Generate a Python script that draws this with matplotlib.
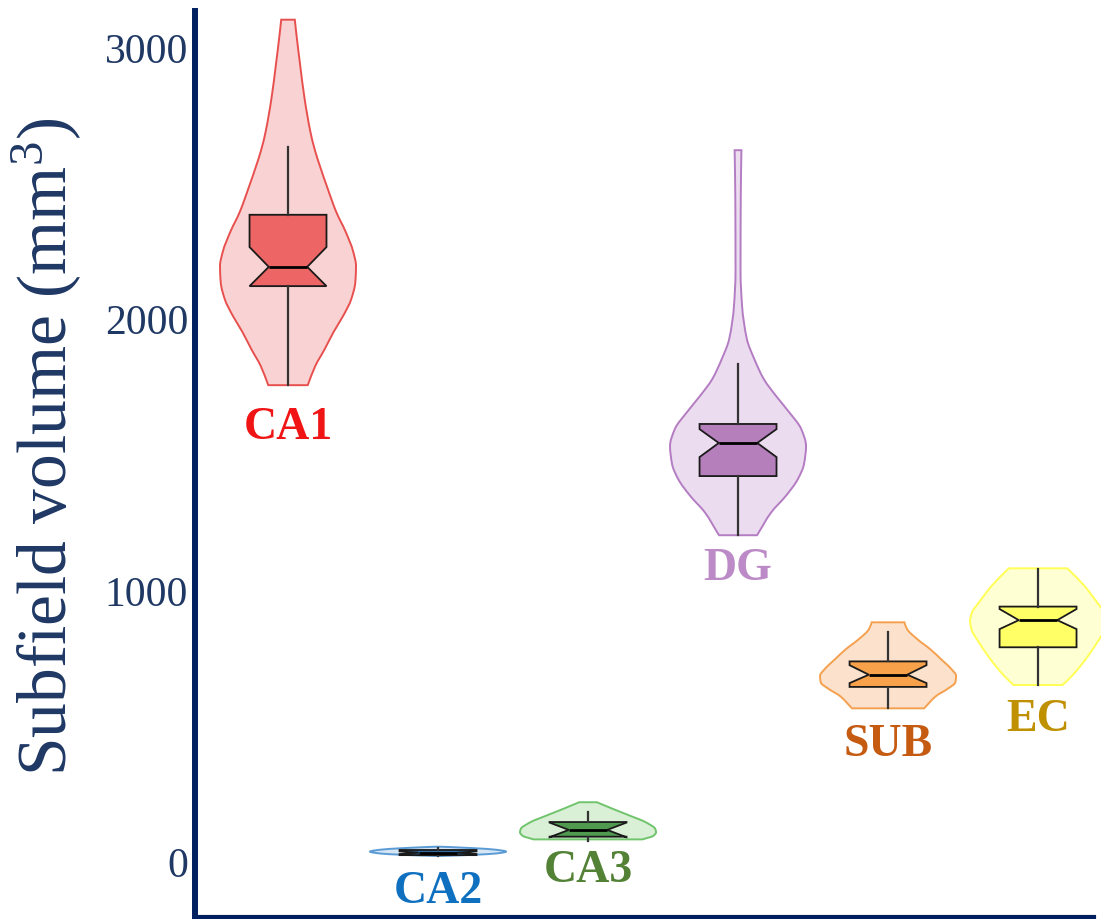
import numpy as np
import matplotlib
matplotlib.use("Agg")
import matplotlib.pyplot as plt
from matplotlib.path import Path
from matplotlib.patches import PathPatch

plt.rcParams["font.family"] = ["Liberation Serif", "DejaVu Serif"]
plt.rcParams["mathtext.fontset"] = "custom"
plt.rcParams["mathtext.rm"] = "Liberation Serif"
plt.rcParams["mathtext.it"] = "Liberation Serif:italic"
plt.rcParams["mathtext.bf"] = "Liberation Serif:bold"

# ---- data -------------------------------------------------------------
categories = ["CA1", "CA2", "CA3", "DG", "SUB", "EC"]

# box statistics (mm^3)
q1 = [2119, 22, 90, 1419, 642, 788]
med = [2190, 31, 115, 1541, 687, 888]
q3 = [2382, 41, 144, 1611, 736, 938]
whislo = [1754, 18, 75, 1201, 563, 649]
whishi = [2633, 48, 182, 1832, 845, 1076]
cilo = [2119, 26, 88, 1489, 656, 855]
cihi = [2263, 36, 142, 1592, 722, 929]

# violin density profiles: volume levels and relative half-widths
ca1_y = [1754, 1824, 1887, 1950, 2009, 2071, 2134, 2193, 2245, 2318, 2392,
         2488, 2561, 2625, 2687, 2808, 2931, 3055, 3101]
ca1_w = [0.29, 0.40, 0.54, 0.67, 0.81, 0.93, 0.99, 1.00, 0.96, 0.85, 0.71,
         0.57, 0.47, 0.39, 0.33, 0.245, 0.18, 0.12, 0.10]

ca2_y = [19, 23, 28, 35, 42, 48, 53]
ca2_w = [0.05, 0.50, 0.85, 1.00, 0.85, 0.50, 0.05]

ca3_y = [80, 93, 106, 118, 143, 167, 192, 217]
ca3_w = [0.80, 0.96, 1.00, 0.99, 0.85, 0.62, 0.37, 0.13]

dg_y = [1201, 1286, 1345, 1408, 1463, 1530, 1592, 1655, 1714, 1776, 1850,
        1924, 2045, 2171, 2440, 2620]
dg_w = [0.28, 0.49, 0.70, 0.88, 0.97, 1.00, 0.93, 0.75, 0.56, 0.38, 0.24,
        0.13, 0.06, 0.037, 0.04, 0.05]

sub_y = [563, 609, 634, 659, 683, 708, 744, 781, 818, 855, 880]
sub_w = [0.53, 0.71, 0.87, 0.99, 1.00, 0.93, 0.78, 0.62, 0.43, 0.28, 0.24]

ec_y = [649, 683, 744, 806, 855, 886, 917, 953, 1015, 1079]
ec_w = [0.36, 0.50, 0.70, 0.87, 0.98, 1.00, 0.97, 0.87, 0.68, 0.43]

profiles_y = [ca1_y, ca2_y, ca3_y, dg_y, sub_y, ec_y]
profiles_w = [ca1_w, ca2_w, ca3_w, dg_w, sub_w, ec_w]

# label placement (volume value for each category name)
label_y = [1600, -112, -33, 1082, 431, 523]

yticks = [0, 1000, 2000, 3000]

# ---- styling ------------------------------------------------------------
edge_colors = ["#e8504f", "#5b9bd5", "#70c46c", "#b47cc2", "#f5a04e", "#ffff55"]
fill_colors = ["#f9d3d3", "#d6e6f5", "#d9efd6", "#ebdcef", "#fce1cd", "#ffffd4"]
box_colors = ["#ee6565", "#2e6ea8", "#4f9a4f", "#b57fbb", "#f7a24b", "#ffff66"]
text_colors = ["#f01414", "#0f70c0", "#538135", "#bc8ac6", "#c55a11", "#bf9000"]
navy = "#002060"
tick_navy = "#1f3864"

half_width = 0.4533   # data units for a relative width of 1
box_width = 0.513


def hermite_slopes(y, w):
    """Monotone (Fritsch-Carlson) slopes of w as a function of y."""
    y = np.asarray(y, float)
    w = np.asarray(w, float)
    h = np.diff(y)
    d = np.diff(w) / h
    m = np.zeros_like(w)
    m[0], m[-1] = d[0], d[-1]
    for k in range(1, len(w) - 1):
        if d[k - 1] * d[k] <= 0:
            m[k] = 0.0
        else:
            w1 = 2 * h[k] + h[k - 1]
            w2 = h[k] + 2 * h[k - 1]
            m[k] = (w1 + w2) / (w1 / d[k - 1] + w2 / d[k])
    return m


def side_segments(pos, sign, y, w):
    """Bezier segments of one violin side, running bottom to top."""
    y = np.asarray(y, float)
    w = np.asarray(w, float)
    m = hermite_slopes(y, w)
    verts, codes = [], []
    for k in range(len(y) - 1):
        h = y[k + 1] - y[k]
        c1 = (w[k] + m[k] * h / 3, y[k] + h / 3)
        c2 = (w[k + 1] - m[k + 1] * h / 3, y[k + 1] - h / 3)
        p2 = (w[k + 1], y[k + 1])
        for ww, yy in (c1, c2, p2):
            verts.append((pos + sign * half_width * ww, yy))
        codes += [Path.CURVE4] * 3
    return verts, codes


def reverse_segments(start, verts):
    """Reverse a chain of cubic segments that begins at start."""
    pts = [start] + verts
    return pts[::-1][1:]


def violin_path(pos, ys, ws):
    start_l = (pos - half_width * ws[0], ys[0])
    lv, lc = side_segments(pos, -1, ys, ws)
    start_r = (pos + half_width * ws[0], ys[0])
    rv, rc = side_segments(pos, +1, ys, ws)
    top_r = rv[-1]
    rv_down = reverse_segments(start_r, rv)
    verts = [start_l] + lv + [top_r] + rv_down + [start_l]
    codes = ([Path.MOVETO] + lc + [Path.LINETO] + [Path.CURVE4] * len(rv_down)
             + [Path.CLOSEPOLY])
    return Path(verts, codes)


fig = plt.figure(figsize=(11.01, 9.20), dpi=100)
ax = fig.add_axes([195 / 1101, 2 / 920, (1094 - 195) / 1101, (918 - 12) / 920])

positions = np.arange(1, len(categories) + 1)

for i, pos in enumerate(positions):
    patch = PathPatch(violin_path(pos, profiles_y[i], profiles_w[i]),
                      facecolor=fill_colors[i], edgecolor=edge_colors[i],
                      lw=1.4, zorder=1, clip_on=False)
    ax.add_patch(patch)

stats = []
for i, name in enumerate(categories):
    stats.append(dict(label=name, med=med[i], q1=q1[i], q3=q3[i],
                      whislo=whislo[i], whishi=whishi[i],
                      cilo=cilo[i], cihi=cihi[i], fliers=[]))

bp = ax.bxp(stats, positions=positions, widths=box_width, shownotches=True,
            patch_artist=True, showcaps=False, showfliers=False,
            boxprops=dict(edgecolor="#1a1a1a", linewidth=1.3),
            medianprops=dict(color="black", linewidth=2.0),
            whiskerprops=dict(color="#333333", linewidth=1.6),
            zorder=2, manage_ticks=False)
for i, box in enumerate(bp["boxes"]):
    box.set_facecolor(box_colors[i])
for art in bp["whiskers"] + bp["medians"] + bp["boxes"]:
    art.set_clip_on(False)

for i, pos in enumerate(positions):
    ax.text(pos, label_y[i], categories[i], ha="center", va="center",
            fontsize=33, fontweight="bold", color=text_colors[i], zorder=3)

ax.set_xlim(0.38, 6.373)
ax.set_ylim(-206, 3133)
ax.set_xticks([])
ax.set_yticks(yticks)
ax.set_yticklabels([str(t) for t in yticks], fontsize=30, color=tick_navy)
ax.tick_params(axis="y", length=0, pad=5)

for side in ["top", "right"]:
    ax.spines[side].set_visible(False)
ax.spines["left"].set_color(navy)
ax.spines["left"].set_linewidth(4.3)
ax.spines["bottom"].set_color(navy)
ax.spines["bottom"].set_linewidth(3.0)
ax.set_facecolor("none")

fig.text(47 / 1101, 1 - 447 / 920, "Subfield volume (mm$^{3}$)",
         rotation=90, ha="center", va="center", fontsize=50, color=tick_navy)

fig.savefig("out.png", dpi=100)
